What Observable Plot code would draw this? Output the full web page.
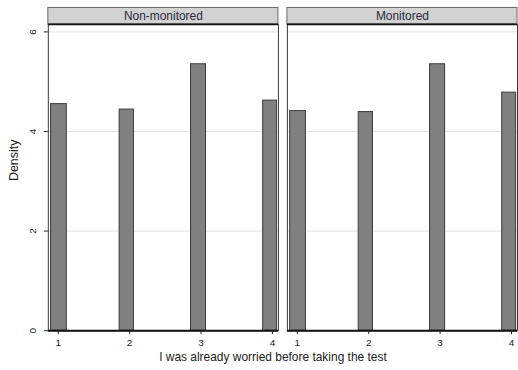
<!DOCTYPE html>
<html>
<head>
<meta charset="utf-8">
<script src="https://cdn.jsdelivr.net/npm/d3@7"></script>
<script src="https://cdn.jsdelivr.net/npm/@observablehq/plot@0.6"></script>
<style>
  html, body { margin: 0; padding: 0; background: #fff; overflow: hidden; }
  svg { display: block; }
</style>
</head>
<body>
<div id="chart"></div>
<script>
const groups = ["Non-monitored", "Monitored"];
const categories = [1, 2, 3, 4];
const binStart = [0.9, 1.86, 2.86, 3.87];
const binEnd = [1.12, 2.06, 3.07, 4.065];
const densityNonMonitored = [4.55, 4.44, 5.35, 4.62];
const densityMonitored = [4.41, 4.39, 5.35, 4.78];
const yTicks = [0, 2, 4, 6];
const xTitle = "I was already worried before taking the test";
const yTitle = "Density";

const rows = [];
groups.forEach((g, gi) => {
  const vals = gi === 0 ? densityNonMonitored : densityMonitored;
  categories.forEach((c, i) => {
    rows.push({group: g, category: c, x1: binStart[i], x2: binEnd[i], density: vals[i]});
  });
});

const yMax = 6.15;
const font = "'Liberation Sans', Arial, sans-serif";
const fmt = d3.format("d");

const chart = Plot.plot({
  width: 520,
  height: 370,
  marginLeft: 47.3,
  marginRight: 0.6,
  marginTop: 24,
  marginBottom: 38.5,
  style: {fontFamily: font, background: "#fff"},
  fx: {domain: groups, paddingInner: 0.0387, paddingOuter: 0, axis: null},
  x: {domain: [0.861, 4.084]},
  y: {domain: [0, yMax]},
  marks: [
    Plot.gridY(yTicks.filter(d => d > 0), {stroke: "#e2e2e2", strokeOpacity: 1, strokeWidth: 1}),
    Plot.rect(rows, {fx: "group", x1: "x1", x2: "x2", y1: 0, y2: "density", fill: "#808080", stroke: "#3a3a3a", strokeWidth: 1}),
    Plot.frame({stroke: "#3a3a3a", strokeWidth: 1}),
    Plot.rect(groups, {fx: d => d, y1: () => yMax, y2: () => yMax, insetTop: -16.5, fill: "#d2d2d2", stroke: "#6a6a6a", strokeWidth: 1}),
    Plot.ruleY([yMax], {stroke: "#111", strokeWidth: 1.6}),
    Plot.ruleY([0], {stroke: "#111", strokeWidth: 2}),
    Plot.text(groups, {fx: d => d, text: d => d, frameAnchor: "top", lineAnchor: "middle", dy: -8.5, fontSize: 12, fill: "#2a2a3a"}),
    Plot.axisX({ticks: categories, tickFormat: fmt, tickSize: 4, tickPadding: 4, fontSize: 10, label: null, stroke: "#222", color: "#222"}),
    Plot.axisY({ticks: yTicks, tickFormat: fmt, tickSize: 4, tickPadding: 8, tickRotate: -90, fontSize: 10, label: null, stroke: "#222", color: "#222"}),
    Plot.text([xTitle], {facet: "super", frameAnchor: "bottom", dy: 30.5, dx: -10, fontSize: 12, fill: "#222"}),
    Plot.text([yTitle], {facet: "super", frameAnchor: "left", rotate: -90, dx: -34, dy: 3.5, fontSize: 12.5, fill: "#222"})
  ]
});
document.getElementById("chart").appendChild(chart);
</script>
</body>
</html>
